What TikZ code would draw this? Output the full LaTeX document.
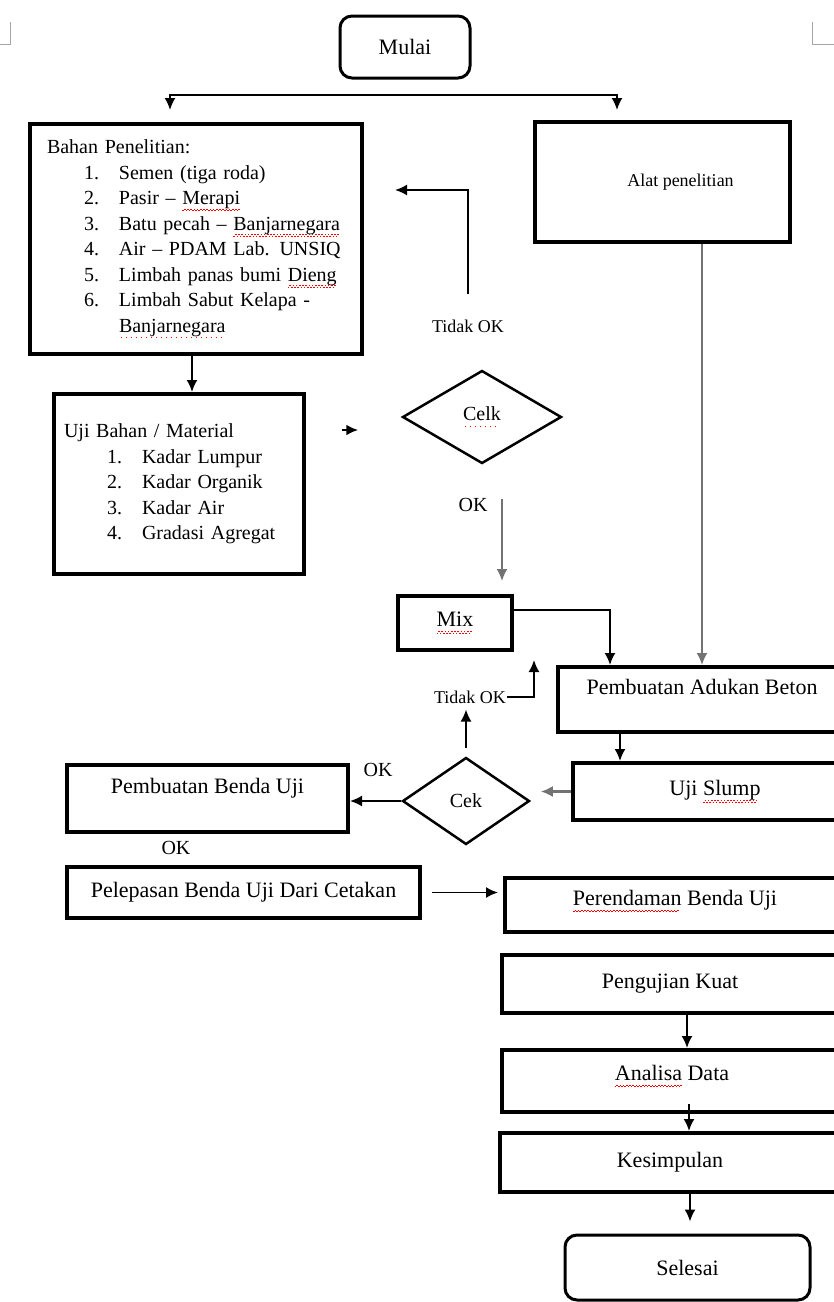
\documentclass[tikz,border=0pt]{standalone}
\usepackage{fontspec}
\setmainfont{Liberation Serif}
\usetikzlibrary{arrows.meta,positioning,shapes.geometric}
% red spell-check marks as in the scanned chart
\newcommand\spellwave[1]{\setbox0\hbox{#1}\rlap{\lower6pt\hbox to\wd0{\color{red}\leaders\hbox{\rule[-0.8pt]{1.6pt}{1pt}\rule[0.8pt]{1.6pt}{1pt}}\hfill}}\box0\relax}
\newcommand\spelldots[1]{\setbox0\hbox{#1}\rlap{\lower6pt\hbox to\wd0{\color{red}\leaders\hbox to 5pt{\hss\rule{1.4pt}{1.4pt}\hss}\hfill}}\box0\relax}
\tikzset{
procbox/.style={
  rectangle,
  line width=4pt,
  inner sep=0pt,
  align=center,
  draw=black,
  font=\fontsize{22}{26}\selectfont,
  }
}
\tikzset{
termbox/.style={
  procbox,
  line width=3pt,
  rounded corners=12pt,
  }
}
\tikzset{
listbox/.style={
  procbox,
  align=left,
  font=\fontsize{20}{25.5}\selectfont,
  }
}
\tikzset{
decision/.style={
  diamond,
  line width=2.5pt,
  inner sep=0pt,
  draw=black,
  font=\fontsize{20}{24}\selectfont,
  }
}
\tikzset{
lbl/.style={
  inner sep=1pt,
  font=\fontsize{20}{24}\selectfont,
  }
}
\tikzset{
myline/.style={
  line width=1.8pt,
  -{Latex[length=12pt,width=11pt]}
  }
}
\tikzset{
greyline/.style={
  myline,
  draw=black!55,
  }
}

\begin{document}
\begin{tikzpicture}[x=1pt,y=-1pt]
    \useasboundingbox (0,0) rectangle (834,1302);
    % page corner marks
    \draw[black!35, line width=0.8pt] (10,22) -- (10,44) -- (0,44);
    \draw[black!35, line width=0.8pt] (812,22) -- (812,44) -- (834,44);

    % start and preparation
    \node[termbox, minimum width=130pt, minimum height=62pt] (mulai) at (405,47) {Mulai};
    \node[listbox, anchor=north west, text width=298pt, inner xsep=17pt, minimum height=230pt] (bahan) at (28,122) {%
      Bahan Penelitian:\\
      \hspace*{37pt}\makebox[35pt][l]{1.}Semen (tiga roda)\\
      \hspace*{37pt}\makebox[35pt][l]{2.}Pasir -- \spellwave{Merapi}\\
      \hspace*{37pt}\makebox[35pt][l]{3.}Batu pecah -- \spellwave{Banjarnegara}\\
      \hspace*{37pt}\makebox[35pt][l]{4.}Air -- PDAM Lab. UNSIQ\\
      \hspace*{37pt}\makebox[35pt][l]{5.}Limbah panas bumi \spellwave{Dieng}\\
      \hspace*{37pt}\makebox[35pt][l]{6.}Limbah Sabut Kelapa -\\
      \hspace*{72pt}\spelldots{Banjarnegara}};
    \node[procbox, minimum width=255pt, minimum height=120pt, font=\fontsize{18}{22}\selectfont] (alat) at (662.5,182) {\hspace*{36pt}Alat penelitian};

    % material test
    \node[listbox, anchor=north west, text width=230pt, inner xsep=10pt, minimum height=180pt] (uji_bahan) at (52,392) {%
      Uji Bahan / Material\\
      \hspace*{43pt}\makebox[35pt][l]{1.}Kadar Lumpur\\
      \hspace*{43pt}\makebox[35pt][l]{2.}Kadar Organik\\
      \hspace*{43pt}\makebox[35pt][l]{3.}Kadar Air\\
      \hspace*{43pt}\makebox[35pt][l]{4.}Gradasi Agregat};
    \node[decision, minimum width=159pt, minimum height=93pt] (cek_bahan) at (482,417) {\spelldots{Celk}};
    \node[lbl, font=\fontsize{18}{22}\selectfont] (tidak_ok1) at (468,326) {Tidak OK};
    \node[lbl] (ok1) at (473,505) {OK};

    % mixing and slump
    \node[procbox, minimum width=114pt, minimum height=54pt] (mix) at (455,623) {\spellwave{Mix}};
    \node[procbox, minimum width=288pt, minimum height=65pt, text depth=25pt] (adukan) at (702,699.5) {Pembuatan Adukan Beton};
    \node[procbox, minimum width=284pt, minimum height=57pt] (uji_slump) at (715,791.5) {Uji \spellwave{Slump}};
    \node[decision, minimum width=127pt, minimum height=87pt] (cek_slump) at (466,801) {Cek};
    \node[lbl, font=\fontsize{18}{22}\selectfont] (tidak_ok2) at (470,697) {Tidak OK};
    \node[lbl] (ok2) at (378,770) {OK};

    % specimens
    \node[procbox, minimum width=281pt, minimum height=67pt, text depth=25pt] (benda_uji) at (207.5,798.5) {Pembuatan Benda Uji};
    \node[lbl] (ok3) at (176,848) {OK};
    \node[procbox, minimum width=353pt, minimum height=51pt] (lepas) at (243.5,892.5) {Pelepasan Benda Uji Dari Cetakan};
    \node[procbox, minimum width=340pt, minimum height=54pt, text depth=14pt] (rendam) at (675,905) {\spellwave{Perendaman} Benda Uji};
    \node[procbox, minimum width=336pt, minimum height=58pt] (uji_kuat) at (670,984) {Pengujian Kuat};
    \node[procbox, minimum width=340pt, minimum height=62pt, text depth=16pt] (analisa) at (672,1081) {\spellwave{Analisa} Data};
    \node[procbox, minimum width=340pt, minimum height=59pt] (kesimpulan) at (670,1162.5) {Kesimpulan};
    \node[termbox, minimum width=245pt, minimum height=65pt] (selesai) at (687.5,1267.5) {Selesai};

    % free arrow ends
    \coordinate (split) at (405,95);
    \coordinate (bahan_in) at (170,110);
    \coordinate (alat_in) at (617,110);
    \coordinate (back_tip) at (395,190);
    \coordinate (mix_tip) at (534,660);

    % top edges
    \draw[myline, {Latex[length=12pt,width=11pt]}-{Latex[length=12pt,width=11pt]}] (bahan_in) |- (split) -| (alat_in);
    \draw[myline, shorten <=24pt] (tidak_ok1.north) |- (back_tip);
    \draw[myline] ([xshift=-4pt]bahan.south) -- ([xshift=-4pt]bahan.south |- uji_bahan.north);
    \draw[myline, line width=2.6pt, shorten <=36pt, shorten >=43pt] ([yshift=54pt]uji_bahan.east) -- ([yshift=54pt]uji_bahan.east -| cek_bahan.west);
    \draw[greyline, shorten <=34pt, shorten >=13pt] ([xshift=20pt]cek_bahan.south) -- ([xshift=20pt]cek_bahan.south |- mix.north);
    \draw[greyline] (alat.south -| adukan.north) -- (adukan.north);

    % mixing edges
    \draw[myline] ([yshift=13pt]mix.east) -| ([xshift=-92pt]adukan.north);
    \draw[myline] ([xshift=-82pt]adukan.south) -- ([xshift=-82pt]adukan.south |- uji_slump.north);
    \draw[greyline, line width=2.6pt, shorten >=10pt] (uji_slump.west) -- (uji_slump.west -| cek_slump.east);
    \draw[myline] (cek_slump.west) -- (cek_slump.west -| benda_uji.east);
    \draw[myline, shorten <=8pt, shorten >=5pt] (cek_slump.north) -- (cek_slump.north |- tidak_ok2.south);
    \draw[myline] (tidak_ok2.east) -| (mix_tip);

    % bottom edges
    \draw[myline, shorten <=10pt, shorten >=5pt] (lepas.east) -- (lepas.east -| rendam.west);
    \draw[myline] ([xshift=17pt]uji_kuat.south) -- ([xshift=17pt]uji_kuat.south |- analisa.north);
    \draw[myline, shorten <=-10pt] ([xshift=17pt]analisa.south) -- ([xshift=17pt]analisa.south |- kesimpulan.north);
    \draw[myline, shorten >=12pt] ([xshift=20pt]kesimpulan.south) -- ([xshift=20pt]kesimpulan.south |- selesai.north);
\end{tikzpicture}
\end{document}
